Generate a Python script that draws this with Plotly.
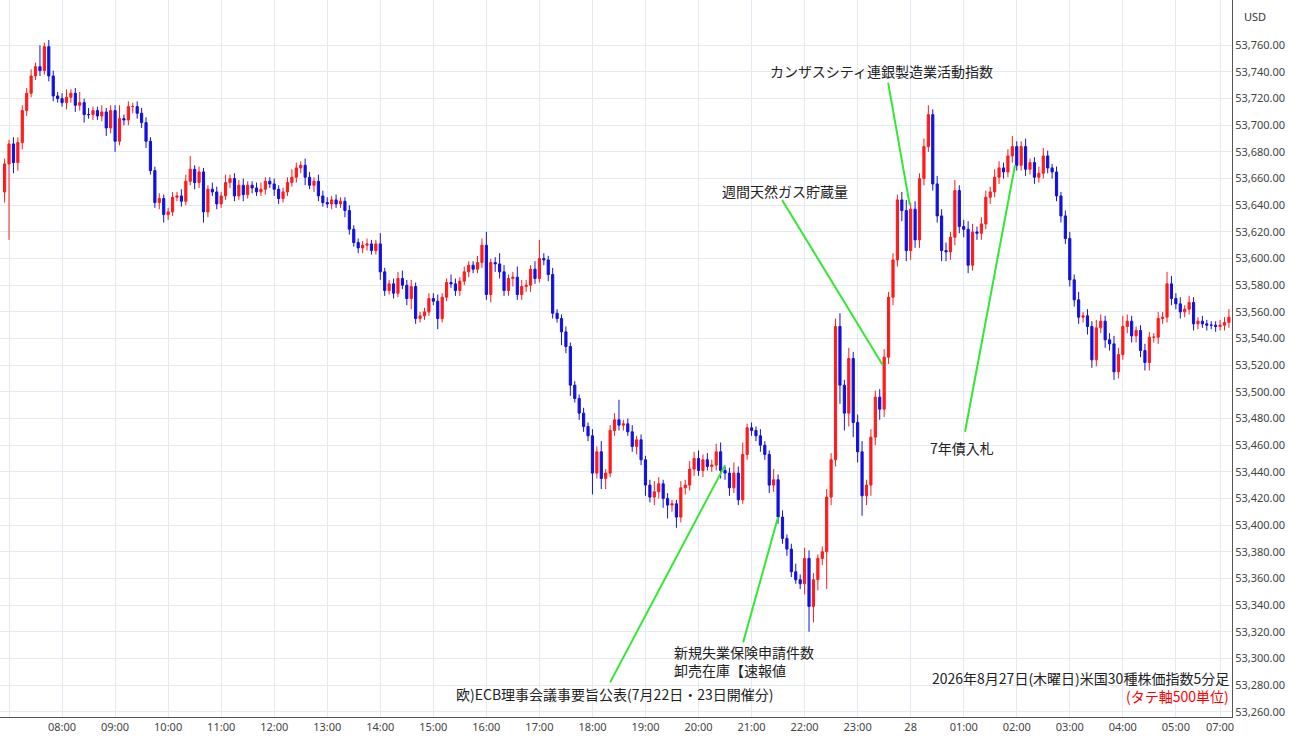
import plotly.graph_objects as go

# closes per 5-min candle (first = 06:55, then rows per hour)
closes_rows = [
    [53671],
    [53686,53672,53687,53711,53724,53737,53744,53741,53759,53737,53722,53720],
    [53717,53721,53724,53715,53717,53708,53708,53711,53707,53710,53698,53711],
    [53688,53705,53704,53714,53714,53709,53702,53688,53666,53642,53645,53633],
    [53635,53646,53647,53643,53658,53667,53657,53665,53635,53652,53650,53641],
    [53647,53657,53660,53647,53655,53648,53655,53653,53650,53652,53658,53656],
    [53652,53645,53650,53657,53661,53668,53670,53661,53655,53658,53647,53642],
    [53641,53644,53641,53643,53636,53622,53612,53608,53610,53611,53606,53611],
    [53590,53576,53581,53574,53585,53580,53570,53579,53555,53557,53560,53570],
    [53568,53555,53571,53582,53581,53576,53583,53590,53595,53592,53597,53610],
    [53573,53597,53596,53590,53576,53585,53586,53573,53579,53580,53592,53585],
    [53600,53599,53588,53559,53555,53545,53534,53505,53495,53484,53474,53467],
    [53439,53455,53435,53439,53471,53479,53475,53476,53470,53459,53464,53449],
    [53430,53421,53425,53431,53420,53415,53416,53406,53428,53430,53442,53450],
    [53441,53449,53444,53445,53455,53441,53439,53428,53439,53419,53453,53473],
    [53471,53467,53460,53453,53430,53434,53406,53390,53382,53365,53359,53356],
    [53375,53339,53359,53375,53380,53421,53449,53549,53505,53484,53525,53477],
    [53455,53422,53430,53466,53496,53487,53526,53571,53599,53644,53636,53606],
    [53637,53614,53660,53684,53708,53656,53632,53606,53605,53616,53651,53624],
    [53622,53595,53620,53619,53626,53646,53650,53661,53668,53665,53677,53684],
    [53670,53684,53667,53672,53661,53664,53677,53668,53665,53647,53632,53615],
    [53584,53569,53556,53557,53549,53524,53548,53553,53539,53536,53515,53528],
    [53549,53553,53542,53546,53531,53522,53541,53541,53555,53556,53581,53570],
    [53566,53560,53562,53567,53551,53553,53551,53550,53550,53549],
    [53550,53552,53556],
]
upper_wick_rows = [
    [4],
    [3,5,4,4,4,5,3,16,3,5,4,3],
    [4,6,3,4,8,3,5,3,3,5,3,4],
    [4,10,3,4,3,4,4,4,3,3,4,3],
    [3,4,3,5,5,10,3,4,3,3,5,4],
    [3,6,3,4,4,5,3,3,4,5,3,3],
    [4,3,3,4,6,4,3,5,4,3,5,4],
    [4,3,4,3,3,4,3,3,3,4,3,3],
    [8,3,3,4,5,6,4,5,3,3,3,4],
    [4,5,3,3,6,4,3,4,3,3,5,5],
    [10,3,4,8,5,3,4,8,5,4,3,6],
    [14,4,3,5,3,3,4,3,3,3,4,3],
    [5,4,8,3,4,5,15,3,4,5,3,4],
    [3,4,8,5,3,4,3,3,5,4,6,5],
    [6,4,5,4,6,7,3,4,8,5,9,3],
    [4,3,5,3,3,8,4,5,3,4,6,4],
    [8,6,5,3,4,6,5,6,10,4,8,5],
    [6,8,4,6,5,6,6,4,5,4,6,8],
    [5,6,4,6,7,4,6,5,6,4,8,4],
    [5,6,6,4,5,5,4,6,5,4,5,8],
    [4,4,6,3,4,5,6,4,3,4,3,4],
    [5,4,6,3,5,4,6,5,4,5,6,5],
    [8,5,4,3,4,5,4,3,5,4,9,6],
    [4,5,3,5,4,3,4,3,3,3],
    [4,4,6],
]
lower_wick_rows = [
    [8],
    [57,8,6,5,4,3,3,4,3,4,4,3],
    [3,5,4,5,4,6,3,4,3,4,6,4],
    [8,3,4,4,5,4,4,5,3,4,5,6],
    [4,3,3,4,3,3,5,4,8,4,3,4],
    [3,3,4,4,3,5,3,4,3,3,4,3],
    [5,4,3,3,3,4,4,6,3,5,4,3],
    [3,4,3,3,5,4,3,4,4,4,3,3],
    [6,4,3,4,3,3,5,8,4,3,3,3],
    [3,8,3,3,3,4,4,3,4,3,3,4],
    [4,6,6,5,4,4,6,4,4,4,5,4],
    [3,4,5,4,3,10,5,8,3,5,4,4],
    [16,4,8,8,3,4,4,4,3,4,6,4],
    [8,4,6,5,7,10,5,8,4,5,4,5],
    [4,5,3,4,4,6,5,6,4,4,3,4],
    [4,4,5,4,6,5,5,4,5,4,3,4],
    [8,19,12,8,5,28,6,5,14,13,10,11],
    [8,15,7,8,6,8,6,5,6,5,8,8],
    [7,6,6,5,4,5,5,8,7,6,6,5],
    [6,6,4,5,5,4,5,4,5,5,4,5],
    [4,4,5,4,5,4,4,4,5,4,5,4],
    [5,5,5,4,6,6,5,4,6,5,6,5],
    [4,5,5,5,5,6,6,4,5,4,4,5],
    [4,5,4,4,5,4,3,4,3,4],
    [3,4,4],
]
first_open = 53650

tick_labels = ["07:00","08:00","09:00","10:00","11:00","12:00","13:00","14:00","15:00",
               "16:00","17:00","18:00","19:00","20:00","21:00","22:00","23:00","28",
               "01:00","02:00","03:00","04:00","05:00","07:00"]
tick_index = [0,12,24,36,48,60,72,84,96,108,120,132,144,156,168,180,192,204,
              216,228,240,252,264,274]
price_ticks = list(range(53260, 53761, 20))

closes = [v for r in closes_rows for v in r]
uw = [v for r in upper_wick_rows for v in r]
dw = [v for r in lower_wick_rows for v in r]
opens = [first_open] + closes[:-1]
highs = [max(o, c) + u for o, c, u in zip(opens, closes, uw)]
lows = [min(o, c) - d for o, c, d in zip(opens, closes, dw)]
xs = list(range(-1, len(closes) - 1))

fig = go.Figure(go.Candlestick(
    x=xs, open=opens, high=highs, low=lows, close=closes,
    increasing=dict(line=dict(color="#ff1a1a", width=1), fillcolor="#ff1a1a"),
    decreasing=dict(line=dict(color="#1010e0", width=1), fillcolor="#1010e0"),
    whiskerwidth=0, hoverinfo="skip", showlegend=False))

green = "#33e833"
lines = [  # (x0, y0, x1, y1) in index/price
    (198.9, 53732, 203.8, 53640),
    (174.9, 53644, 197.7, 53520),
    (216.3, 53470, 227.6, 53670),
    (166.1, 53312, 174.0, 53406),
    (136.0, 53282, 162.0, 53445),
]
for x0, y0, x1, y1 in lines:
    fig.add_shape(type="line", x0=x0, y0=y0, x1=x1, y1=y1, xref="x", yref="y",
                  line=dict(color=green, width=2))

font = dict(family="Noto Sans CJK JP", size=14, color="#222222")
texts = [
    (197.5, 53741, "カンザスシティ連銀製造業活動指数", "center"),
    (175.6, 53651, "週間天然ガス貯蔵量", "center"),
    (215.6, 53458, "7年債入札", "center"),
    (137.1, 53273, "欧)ECB理事会議事要旨公表(7月22日・23日開催分)", "center"),
]
for x, y, t, a in texts:
    fig.add_annotation(x=x, y=y, text=t, showarrow=False, xanchor=a, font=font)
fig.add_annotation(x=150.0, y=53298, text="新規失業保険申請件数<br>卸売在庫【速報値", showarrow=False,
                   xanchor="left", align="left", font=font)
fig.add_annotation(xref="paper", yref="paper", x=0.999, y=0.037, text="2026年8月27日(木曜日)米国30種株価指数5分足",
                   showarrow=False, xanchor="right", font=font)
fig.add_annotation(xref="paper", yref="paper", x=0.999, y=0.013, text="(タテ軸500単位)",
                   showarrow=False, xanchor="right", font=dict(font, color="#ff0000"))
fig.add_annotation(xref="paper", yref="paper", x=1.008, y=0.99, text="USD", showarrow=False,
                   xanchor="left", font=dict(family="Noto Sans", size=11, color="#333"))

grid = "#e3eaf2"
fig.update_layout(
    width=1300, height=745, margin=dict(l=0, r=68, t=0, b=28, autoexpand=False),
    paper_bgcolor="white", plot_bgcolor="white",
    xaxis=dict(range=[-2.04, 276.7], tickmode="array", tickvals=tick_index, ticktext=tick_labels,
               showgrid=True, gridcolor=grid, gridwidth=1, rangeslider=dict(visible=False),
               showline=True, linecolor="#555", linewidth=1, ticks="", automargin=False,
               tickfont=dict(family="Noto Sans", size=11, color="#444"), zeroline=False),
    yaxis=dict(range=[53256, 53794], side="right", tickmode="array", tickvals=price_ticks,
               tickformat=",.2f", automargin=False,
               showgrid=True, gridcolor=grid, gridwidth=1, showline=True, linecolor="#555",
               linewidth=1, ticks="", tickfont=dict(family="Noto Sans", size=11, color="#444"),
               zeroline=False),
)
fig.write_html("out.html", config={"displayModeBar": False})

with open("out.html", encoding="utf-8") as f:
    html = f.read()
html = html.replace("<body>", '<body style="margin:0;overflow:hidden">', 1)
with open("out.html", "w", encoding="utf-8") as f:
    f.write(html)
